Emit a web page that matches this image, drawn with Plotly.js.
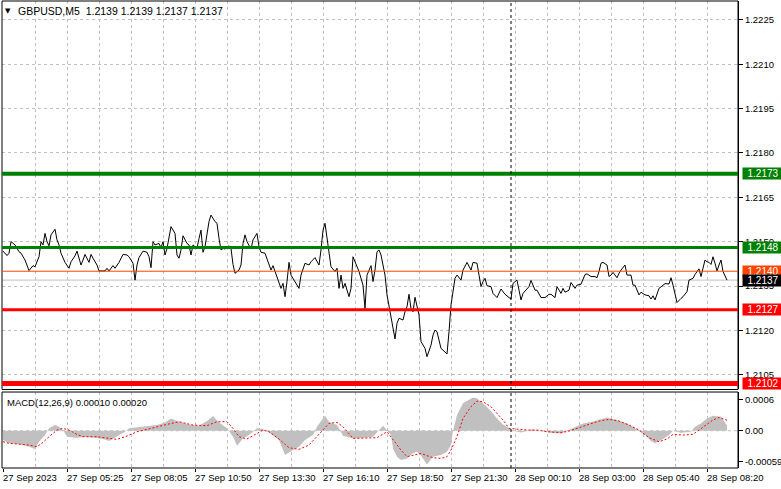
<!DOCTYPE html>
<html><head><meta charset="utf-8">
<script src="https://cdn.plot.ly/plotly-3.0.1.min.js"></script>
<style>html,body{margin:0;padding:0;background:#fff;}#chart{width:781px;height:489px;}</style>
</head><body><div id="chart"></div>
<script>
// ---------- data ----------
const symbolTitle = "GBPUSD,M5  1.2139 1.2139 1.2137 1.2137";
const macdTitle = "MACD(12,26,9) 0.00010 0.00020";

const priceBars = [0,2,3,4,6,8,9,11,13,15,16,18,19,20,21,22,23,24,26,27,28,29,31,33,34,36,37,39,40,41,43,44,45,47,48,51,52,53,55,56,58,60,62,63,65,66,67,68,70,72,73,74,75,76,78,79,80,81,82,83,84,86,87,88,89,90,92,93,94,95,97,98,99,100,101,103,104,106,107,108,109,110,111,113,114,115,116,118,119,120,121,122,123,124,125,127,128,129,131,133,134,135,137,139,140,141,142,143,144,146,148,149,151,153,154,156,158,159,160,161,162,163,164,166,167,168,169,170,171,173,174,175,177,178,180,181,182,184,185,186,187,188,189,190,191,192,194,196,197,198,200,201,202,203,204,205,206,208,209,211,212,214,215,216,217,219,220,222,223,224,226,227,229,230,232,234,235,237,238,239,240,241,242,244,245,247,249,251,253,254,255,257,258,259,260,262,263,264,266,267,269,271,273,274,276,277,279,280,281,283,284,286,287,289,291,292,294,296,297,298,299,300,302,303,304,305,307,308,309,311,312,314,315,316,318,319,321,323,324,325,326,328,329,331,333,334,335,336,337,339,340,342,343,345,346,348,349,350,351,352,353,354,355,356,357,358,359,360,362];
const priceValues = [1.21468,1.21453,1.21461,1.21500,1.21489,1.21466,1.21461,1.21438,1.21402,1.21419,1.21415,1.21449,1.21500,1.21489,1.21528,1.21500,1.21486,1.21523,1.21542,1.21506,1.21489,1.21461,1.21430,1.21410,1.21432,1.21452,1.21468,1.21421,1.21438,1.21457,1.21430,1.21457,1.21444,1.21421,1.21401,1.21401,1.21410,1.21401,1.21419,1.21410,1.21430,1.21457,1.21455,1.21449,1.21427,1.21370,1.21421,1.21446,1.21468,1.21464,1.21449,1.21412,1.21500,1.21489,1.21494,1.21480,1.21500,1.21455,1.21477,1.21511,1.21551,1.21528,1.21455,1.21444,1.21472,1.21520,1.21494,1.21489,1.21455,1.21489,1.21477,1.21511,1.21539,1.21464,1.21483,1.21568,1.21590,1.21568,1.21562,1.21511,1.21472,1.21477,1.21475,1.21486,1.21477,1.21423,1.21393,1.21404,1.21421,1.21494,1.21523,1.21500,1.21489,1.21475,1.21506,1.21528,1.21483,1.21464,1.21461,1.21421,1.21404,1.21419,1.21382,1.21342,1.21359,1.21314,1.21365,1.21430,1.21387,1.21365,1.21342,1.21387,1.21427,1.21421,1.21432,1.21446,1.21421,1.21472,1.21539,1.21562,1.21511,1.21466,1.21415,1.21399,1.21410,1.21342,1.21387,1.21342,1.21359,1.21314,1.21342,1.21449,1.21415,1.21399,1.21353,1.21274,1.21387,1.21419,1.21365,1.21404,1.21466,1.21472,1.21455,1.21421,1.21387,1.21320,1.21241,1.21171,1.21224,1.21241,1.21235,1.21263,1.21280,1.21322,1.21274,1.21263,1.21312,1.21252,1.21162,1.21139,1.21111,1.21150,1.21184,1.21201,1.21195,1.21139,1.21133,1.21120,1.21195,1.21286,1.21376,1.21387,1.21370,1.21404,1.21430,1.21404,1.21430,1.21427,1.21387,1.21348,1.21365,1.21376,1.21351,1.21348,1.21325,1.21311,1.21340,1.21322,1.21311,1.21306,1.21359,1.21370,1.21336,1.21303,1.21325,1.21342,1.21348,1.21369,1.21336,1.21336,1.21311,1.21311,1.21322,1.21322,1.21311,1.21348,1.21325,1.21342,1.21329,1.21336,1.21362,1.21342,1.21353,1.21356,1.21389,1.21391,1.21382,1.21382,1.21378,1.21399,1.21427,1.21430,1.21421,1.21382,1.21387,1.21396,1.21378,1.21393,1.21404,1.21421,1.21387,1.21387,1.21353,1.21353,1.21320,1.21329,1.21320,1.21317,1.21306,1.21317,1.21303,1.21342,1.21348,1.21358,1.21357,1.21378,1.21353,1.21320,1.21294,1.21308,1.21314,1.21331,1.21370,1.21376,1.21389,1.21408,1.21382,1.21410,1.21438,1.21432,1.21430,1.21423,1.21449,1.21427,1.21401,1.21421,1.21438,1.21399,1.21370];

const histBars = [0,3,8,13,16,18,21,23,26,28,30,32,36,41,46,51,53,57,61,63,68,73,77,81,84,87,93,98,102,105,108,112,115,117,120,123,127,130,133,138,141,145,148,151,155,157,161,163,167,170,175,181,185,190,192,194,195,197,199,202,205,207,209,212,215,219,222,224,225,227,230,234,235,237,240,244,247,250,253,255,259,264,269,274,279,285,290,296,302,307,312,315,319,321,324,326,330,333,335,339,344,346,349,352,355,359,362];
const histValues = [-0.000178,-0.000242,-0.000261,-0.000306,-0.000351,-0.000210,-0.000083,0.000045,0.000108,0.000076,0.000013,-0.000115,-0.000134,-0.000121,-0.000134,-0.000166,-0.000198,-0.000115,-0.000019,0.000045,0.000064,0.000083,0.000108,0.000159,0.000236,0.000185,0.000121,0.000096,0.000185,0.000280,0.000159,0.000045,-0.000115,-0.000287,-0.000147,-0.000083,0.000045,0.000032,-0.000032,-0.000178,-0.000465,-0.000370,-0.000306,-0.000178,-0.000083,0.000076,0.000287,0.000172,0.000108,-0.000096,-0.000147,-0.000134,-0.000115,0.000096,0.000013,-0.000083,-0.000338,-0.000497,-0.000561,-0.000529,-0.000433,-0.000401,-0.000478,-0.000644,-0.000497,-0.000465,-0.000401,-0.000274,0.0,0.000300,0.000523,0.000605,0.000637,0.000618,0.000523,0.000376,0.000236,0.000121,0.000057,0.0,-0.000032,0.000025,0.000006,-0.000038,-0.000051,0.000045,0.000140,0.000185,0.000255,0.000204,0.000140,0.000076,-0.000019,-0.000083,-0.000198,-0.000242,-0.000159,-0.000083,0.0,-0.000038,-0.000019,0.000076,0.000140,0.000236,0.000287,0.000268,0.00010];

const signalBars = [0,3,8,13,17,20,23,27,30,33,37,40,47,52,57,62,67,72,77,82,88,95,102,107,112,115,118,122,125,130,133,138,143,148,153,158,163,167,170,175,182,187,192,195,199,202,205,209,212,215,219,222,224,227,230,234,237,240,244,247,250,253,257,262,267,272,279,283,288,293,298,303,308,313,318,323,328,332,335,340,345,348,352,355,358,362];
const signalValues = [-0.000210,-0.000242,-0.000255,-0.000274,-0.000306,-0.000223,-0.000115,0.000013,0.000045,0.000013,-0.000070,-0.000115,-0.000115,-0.000134,-0.000166,-0.000102,-0.000019,0.000025,0.000076,0.000121,0.000172,0.000108,0.000096,0.000172,0.000172,0.000045,-0.000115,-0.000159,-0.000096,0.000013,-0.000019,-0.000159,-0.000325,-0.000357,-0.000274,-0.000070,0.000140,0.000159,0.000076,-0.000147,-0.000147,-0.000134,-0.000019,-0.000178,-0.000370,-0.000497,-0.000465,-0.000433,-0.000478,-0.000516,-0.000529,-0.000497,-0.000370,-0.000115,0.000236,0.000459,0.000567,0.000554,0.000459,0.000331,0.000204,0.000045,0.000025,0.000013,0.000013,-0.000019,-0.000038,-0.000006,0.000057,0.000121,0.000185,0.000217,0.000185,0.000108,0.000013,-0.000134,-0.000210,-0.000159,-0.000070,-0.000083,-0.000070,0.000013,0.000121,0.000204,0.000255,0.00020];

const levelPrices = [1.2173, 1.2148, 1.2127, 1.2102];
const askPrice = 1.2140;
const bidPrice = 1.2137;
const separatorBar = 254;

const timeLabelBars = [0,32,64,96,128,160,192,224,256,288,320,352];
const timeLabels = ["27 Sep 2023","27 Sep 05:25","27 Sep 08:05","27 Sep 10:50","27 Sep 13:30","27 Sep 16:10","27 Sep 18:50","27 Sep 21:30","28 Sep 00:10","28 Sep 03:00","28 Sep 05:40","28 Sep 08:20"];
const priceTicks = [1.2105,1.2120,1.2135,1.2150,1.2165,1.2180,1.2195,1.2210,1.2225];
const macdTicks = [0.0006, 0, -0.00059];
const macdTickText = ["0.0006","0.00","-0.00059"];

// ---------- styles ----------
const FONT = "'Liberation Sans', Arial, sans-serif";
const GRID = '#c0c0c0';
const DASH = '3px,3px';
const levelStyle = [
  {color:'#008000', width:4},
  {color:'#008000', width:3},
  {color:'#ff0000', width:3},
  {color:'#ff0000', width:5}
];
const mainDomain = [0.1681, 1];
const macdDomain = [0, 0.1627];

const traces = [
  {x:histBars, y:histValues, xaxis:'x', yaxis:'y2', type:'scatter', mode:'lines',
   line:{width:0, color:'#c0c0c0'}, fill:'tozeroy', fillcolor:'#c0c0c0', hoverinfo:'skip'},
  {x:signalBars, y:signalValues, xaxis:'x', yaxis:'y2', type:'scatter', mode:'lines',
   line:{width:1, color:'#ff0000', dash:'2px,2px'}, hoverinfo:'skip'},
  {x:priceBars, y:priceValues, xaxis:'x', yaxis:'y', type:'scatter', mode:'lines',
   line:{width:1, color:'#000000'}, hoverinfo:'skip'}
];

const shapes = [];
shapes.push({type:'rect', xref:'paper', yref:'paper', x0:0, x1:1, y0:mainDomain[0], y1:mainDomain[1], line:{color:'#000', width:1}, layer:'above'});
shapes.push({type:'rect', xref:'paper', yref:'paper', x0:0, x1:1, y0:macdDomain[0], y1:macdDomain[1], line:{color:'#000', width:1}, layer:'above'});
shapes.push({type:'line', xref:'paper', yref:'y2', x0:0, x1:1, y0:0, y1:0, line:{color:GRID, width:1, dash:DASH}, layer:'between'});
shapes.push({type:'line', xref:'paper', yref:'y', x0:0, x1:1, y0:bidPrice, y1:bidPrice, line:{color:'#c0c0c0', width:1}, layer:'between'});
shapes.push({type:'line', xref:'paper', yref:'y', x0:0, x1:1, y0:askPrice, y1:askPrice, line:{color:'#ff4500', width:1}, layer:'above'});
levelPrices.forEach((p,i)=>{
  shapes.push({type:'line', xref:'paper', yref:'y', x0:0, x1:1, y0:p, y1:p, line:{color:levelStyle[i].color, width:levelStyle[i].width}, layer:'above'});
});
shapes.push({type:'line', xref:'x', yref:'paper', x0:separatorBar, x1:separatorBar, y0:0, y1:1, line:{color:'#000', width:1, dash:DASH}, layer:'above'});

const annotations = [];
function priceBox(p, bg){
  annotations.push({xref:'paper', x:1, xanchor:'left', xshift:4, yref:'y', y:p, yanchor:'middle',
    text:p.toFixed(4), showarrow:false, bgcolor:bg, font:{color:'#fff', size:10, family:FONT},
    width:40, height:11, borderpad:0, align:'center'});
}
levelPrices.forEach((p,i)=>priceBox(p, levelStyle[i].color));
priceBox(askPrice, '#ff4500');
priceBox(bidPrice, '#000000');

timeLabelBars.forEach((b,i)=>{
  annotations.push({xref:'x', x:b, xanchor:'left', xshift:-2, yref:'paper', y:0, yanchor:'top', yshift:-2,
    text:timeLabels[i], showarrow:false, font:{size:9.5, family:FONT, color:'#000'}});
});
annotations.push({xref:'paper', x:0, xanchor:'left', xshift:1, yref:'paper', y:1, yanchor:'top', yshift:-4,
  text:'▼', showarrow:false, font:{size:7, family:'DejaVu Sans', color:'#000'}});
annotations.push({xref:'paper', x:0, xanchor:'left', xshift:14, yref:'paper', y:1, yanchor:'top', yshift:-2,
  text:symbolTitle, showarrow:false, font:{size:10.5, family:FONT, color:'#000'}});
annotations.push({xref:'paper', x:0, xanchor:'left', xshift:3, yref:'paper', y:macdDomain[1], yanchor:'top', yshift:-3,
  text:macdTitle, showarrow:false, font:{size:9.5, family:FONT, color:'#000'}});

const layout = {
  width:781, height:489,
  margin:{l:2, r:43, t:1, b:21, pad:0},
  paper_bgcolor:'#ffffff', plot_bgcolor:'#ffffff',
  showlegend:false,
  font:{family:FONT, size:9.5, color:'#000'},
  xaxis:{range:[-0.5, 367.5], anchor:'y2', tickmode:'linear', tick0:0, dtick:32,
    showticklabels:false, ticks:'outside', ticklen:3, tickcolor:'#000',
    showgrid:true, gridcolor:GRID, griddash:DASH, gridwidth:1,
    minor:{tickmode:'linear', tick0:16, dtick:32, showgrid:true, gridcolor:GRID, griddash:DASH, ticks:''},
    zeroline:false, showline:false, fixedrange:true},
  yaxis:{domain:mainDomain, range:[1.21000, 1.22314], side:'right', anchor:'x',
    tickmode:'array', tickvals:priceTicks, ticktext:priceTicks.map(v=>v.toFixed(4)),
    ticks:'outside', ticklen:4, tickcolor:'#000',
    showgrid:true, gridcolor:GRID, griddash:DASH, gridwidth:1,
    showline:true, linecolor:'#000', linewidth:1, zeroline:false, fixedrange:true,
    tickfont:{size:9.5, family:FONT, color:'#000'}},
  yaxis2:{domain:macdDomain, range:[-0.000713, 0.00074], side:'right', anchor:'x',
    tickmode:'array', tickvals:macdTicks, ticktext:macdTickText,
    ticks:'outside', ticklen:4, tickcolor:'#000', showgrid:false,
    showline:true, linecolor:'#000', linewidth:1, zeroline:false, fixedrange:true,
    tickfont:{size:9.5, family:FONT, color:'#000'}},
  shapes:shapes,
  annotations:annotations
};

Plotly.newPlot('chart', traces, layout, {staticPlot:true, displayModeBar:false});
</script>
</body></html>
